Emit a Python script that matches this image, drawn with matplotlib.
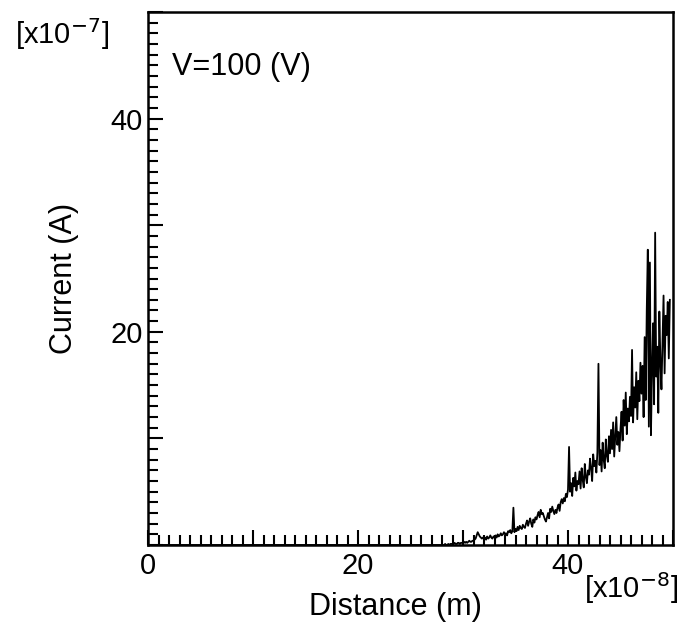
import numpy as np
import matplotlib.pyplot as plt
from matplotlib.ticker import MultipleLocator, FuncFormatter

plt.rcParams['font.family'] = ['Liberation Sans', 'DejaVu Sans']

# distance grid (units of 1e-8 m), flat part then the noisy tail
x_flat = [0.0, 10.0, 20.0, 27.9]
y_flat = [0.0, 0.0, 0.0, 0.0]

x_start = 28.0
x_step = 0.1

# current (units of 1e-7 A), 10 samples per unit of distance
current = [
    0.0, 0.0, 0.0, 0.1, 0.0, 0.0, 0.1, 0.0, 0.1, 0.1,       # 28
    0.1, 0.1, 0.2, 0.1, 0.1, 0.2, 0.2, 0.1, 0.2, 0.2,       # 29
    0.2, 0.3, 0.2, 0.3, 0.2, 0.3, 0.4, 0.3, 0.3, 0.4,       # 30
    0.4, 0.5, 0.6, 0.9, 1.2, 1.0, 0.8, 0.7, 0.6, 0.7,       # 31
    0.6, 0.7, 0.5, 0.8, 0.6, 0.7, 0.9, 0.7, 0.6, 0.8,       # 32
    0.8, 0.9, 0.7, 1.0, 0.8, 0.9, 1.1, 0.9, 1.0, 1.2,       # 33
    1.0, 1.1, 0.9, 1.3, 1.2, 1.4, 1.1, 1.3, 3.5, 1.2,       # 34
    1.5, 1.3, 1.7, 1.4, 1.8, 1.6, 1.5, 1.9, 1.7, 1.6,       # 35
    2.0, 2.3, 1.8, 2.2, 2.5, 2.0, 1.7, 2.4, 2.1, 2.6,       # 36
    2.4, 2.8, 3.1, 2.6, 3.3, 2.9, 3.0, 2.7, 2.4, 2.2,       # 37
    2.6, 3.0, 2.5, 3.4, 3.1, 3.6, 3.2, 2.9, 3.3, 3.0,       # 38
    3.5, 3.8, 3.2, 4.0, 4.3, 3.9, 4.4, 4.1, 4.8, 4.5,       # 39
    5.2, 9.2, 5.0, 5.8, 4.6, 6.3, 5.5, 6.8, 5.1, 6.0,       # 40
    5.7, 6.9, 5.3, 7.2, 6.1, 5.4, 7.6, 6.4, 5.8, 7.0,       # 41
    6.6, 8.1, 7.2, 6.0, 8.5, 7.4, 7.9, 6.8, 8.7, 17.0,      # 42
    7.5, 8.9, 6.9, 9.6, 8.0, 7.2, 9.9, 8.4, 7.8, 10.2,      # 43
    8.6, 10.8, 9.0, 11.5, 8.3, 10.1, 12.0, 9.4, 10.6, 8.8,  # 44
    10.9, 12.5, 9.8, 13.6, 11.2, 14.3, 10.4, 12.8, 11.6, 13.9,  # 45
    12.1, 18.3, 11.5, 14.8, 12.9, 16.2, 11.8, 15.4, 13.5, 17.1,  # 46
    14.2, 16.8, 12.0, 19.5, 13.6, 22.0, 27.7, 11.1, 26.5, 10.3,  # 47
    16.4, 20.8, 13.2, 29.3, 15.8, 18.6, 12.4, 21.9, 17.2, 14.6,  # 48
    18.9, 23.4, 16.1, 21.5, 19.7, 22.8, 17.5, 23.0,              # 49
]

x_noisy = x_start + x_step * np.arange(len(current))
x = np.concatenate([x_flat, x_noisy])
y = np.concatenate([y_flat, current])

fig = plt.figure(figsize=(6.81, 6.24), dpi=100)
ax = fig.add_axes([148 / 681, 1 - 545 / 624, 525 / 681, 533 / 624])

ax.plot(x, y, color='black', lw=1.3)

ax.set_xlim(0, 50)
ax.set_ylim(0, 50)

ax.xaxis.set_major_locator(MultipleLocator(10))
ax.xaxis.set_minor_locator(MultipleLocator(1))
ax.yaxis.set_major_locator(MultipleLocator(10))
ax.yaxis.set_minor_locator(MultipleLocator(1))

ax.xaxis.set_major_formatter(FuncFormatter(lambda v, p: '%d' % v if v % 20 == 0 else ''))
ax.yaxis.set_major_formatter(FuncFormatter(lambda v, p: '%d' % v if v % 20 == 0 and v > 0 else ''))

ax.tick_params(which='both', direction='in', top=False, right=False, width=1.5, labelsize=21)
ax.tick_params(which='major', length=11)
ax.tick_params(which='minor', length=7.5)
ax.tick_params(axis='x', pad=5)
ax.tick_params(axis='y', pad=4)

for s in ax.spines.values():
    s.set_linewidth(1.8)

ax.set_xlabel('Distance (m)', fontsize=22)
ax.set_ylabel('Current (A)', fontsize=22)
ax.xaxis.set_label_coords(0.471, -0.088)
ax.yaxis.set_label_coords(-0.131, 0.5)

ax.text(0.046, 0.897, 'V=100 (V)', transform=ax.transAxes, fontsize=22, va='center')
fig.text(15 / 681, 1 - 34 / 624, r'[x10$^{-7}$]', fontsize=21, va='center')
fig.text(584 / 681, 1 - 588 / 624, r'[x10$^{-8}$]', fontsize=21, va='center')

fig.savefig('out.png', dpi=100)
